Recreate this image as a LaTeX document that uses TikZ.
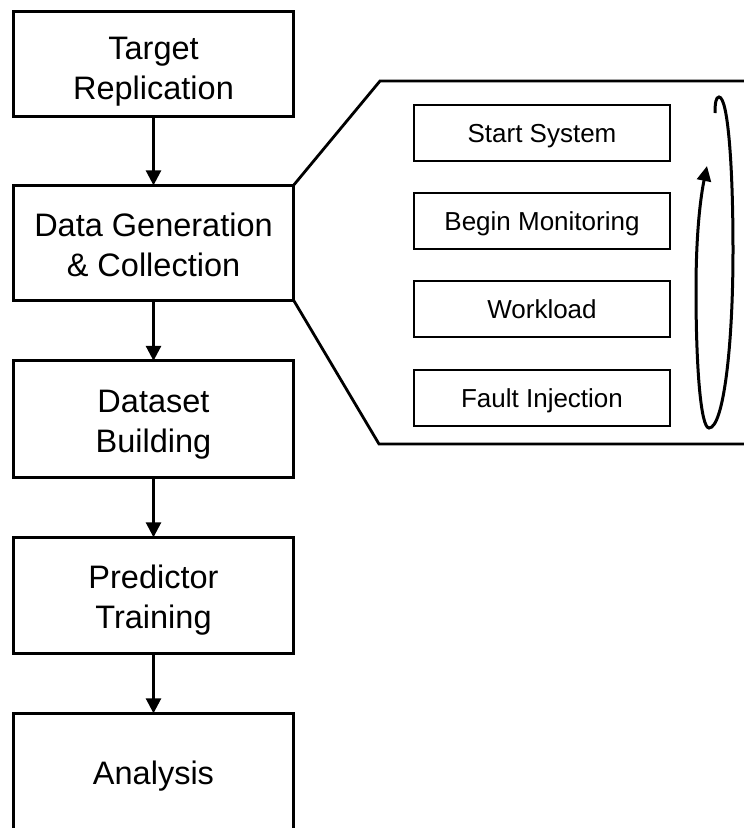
\documentclass[tikz,border=0pt]{standalone}
\usepackage{fontspec}
\setmainfont{Liberation Sans}
\usetikzlibrary{arrows.meta}
\begin{document}
\begin{tikzpicture}[x=1pt,y=-1pt,
  mainbox/.style={draw, line width=3pt, minimum width=280pt, align=center,
    font=\fontsize{32.5}{40}\selectfont, inner sep=0pt, outer sep=0pt,
    text height=67pt, text depth=0pt},
  subbox/.style={draw, line width=2pt, minimum width=255.4pt, minimum height=56.3pt,
    font=\fontsize{26}{30}\selectfont, inner sep=0pt,
    text height=18.6pt, text depth=0pt},
  flow/.style={line width=2.7pt, -{Triangle[length=15pt,width=15pt]}},
  callout/.style={line width=2.8pt, line join=miter},
  loop/.style={line width=3pt, -{Triangle[length=15pt,width=14pt]}},
]
\useasboundingbox (0,0) rectangle (744,828);
\clip (0,0) rectangle (744,828);

% main process boxes
\node[mainbox, minimum height=104.5pt, text height=72pt] (t) at (153.5,63.75) {Target\\Replication};
\node[mainbox, minimum height=114.7pt] (d) at (153.5,242.7) {Data Generation\\\& Collection};
\node[mainbox, minimum height=116.7pt] (b) at (153.5,419.2) {Dataset\\Building};
\node[mainbox, minimum height=116pt] (p) at (153.5,595.3) {Predictor\\Training};
\node[mainbox, minimum height=116pt, text height=26pt] (a) at (153.5,771.3) {Analysis};

% arrows
\draw[flow] (t.south) -- (d.north);
\draw[flow] (d.south) -- (b.north);
\draw[flow] (b.south) -- (p.north);
\draw[flow] (p.south) -- (a.north);

% callout
\coordinate (cTR) at (770,81);
\coordinate (cT) at (380,81);
\coordinate (cB) at (379,444);
\coordinate (cBR) at (770,444);
\draw[callout] (cTR) -- (cT) -- (d.north east) -- (d.south east) -- (cB) -- (cBR);

% sub steps
\node[subbox] (s1) at (542,132.8) {Start System};
\node[subbox] (s2) at (542,221.3) {Begin Monitoring};
\node[subbox] (s3) at (542,309.3) {Workload};
\node[subbox] (s4) at (542,397.7) {Fault Injection};

% loop arrow
\coordinate (L0) at (715,113);
\coordinate (LT) at (719,97);
\coordinate (LR) at (733,250);
\coordinate (LB) at (709,428);
\coordinate (LL) at (696,290);
\coordinate (LE) at (707,166);
\draw[loop] (L0) .. controls (715,103) and (716,97) .. (LT)
  .. controls (728,97) and (733,166) .. (LR)
  .. controls (733,350) and (723,428) .. (LB)
  .. controls (701,428) and (696,370) .. (LL)
  .. controls (696,230) and (701,195) .. (LE);
\end{tikzpicture}
\end{document}
